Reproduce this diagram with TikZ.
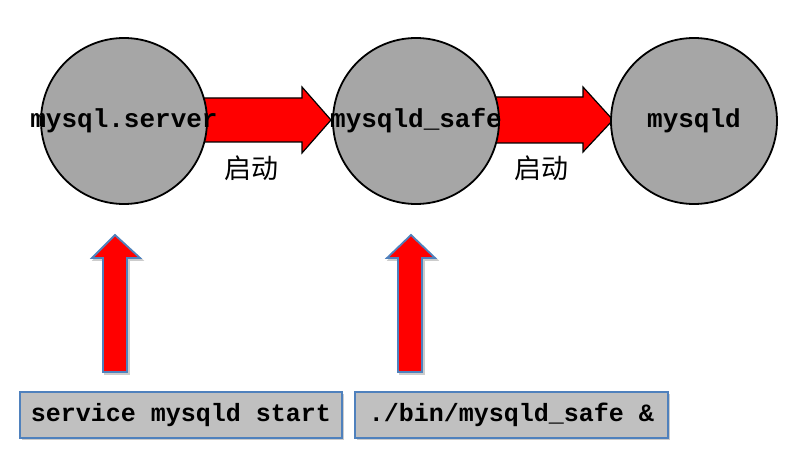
\documentclass[tikz,border=0pt]{standalone}
\usepackage{fontspec}
\setmonofont{Liberation Mono}
\newfontfamily\cjk{Noto Sans CJK SC}
\usepackage{tikz}

\definecolor{circgray}{HTML}{A6A6A6}
\definecolor{boxgray}{HTML}{C0C0C0}
\definecolor{boxblue}{HTML}{4F81BD}
\definecolor{arrowred}{HTML}{FF0000}

\tikzset{
  proc/.style={circle, draw=black, line width=1.8pt, fill=circgray, minimum size=166pt, inner sep=0pt},
  proctext/.style={font=\ttfamily\bfseries\fontsize{26}{30}\selectfont, inner sep=0pt},
  cmdbox/.style={draw=boxblue, line width=1.5pt, fill=boxgray, inner sep=0pt,
    font=\ttfamily\bfseries\fontsize{25}{30}\selectfont},
  startlabel/.style={font=\cjk\fontsize{27}{30}\selectfont, inner sep=0pt},
  fatarrow/.style={draw=black, line width=1.2pt, fill=arrowred},
  uparrow/.style={draw=boxblue, line width=1.8pt, fill=arrowred}
}

\begin{document}
\begin{tikzpicture}[x=1pt,y=-1pt]
	\useasboundingbox (0,0) rectangle (790,465);
	% horizontal arrows (under the circles)
	\draw [fatarrow] (200,98) -- (302,98) -- (302,87) -- (331,120) -- (302,153) -- (302,142) -- (200,142) -- cycle;
	\draw [fatarrow] (490,97) -- (583,97) -- (583,87) -- (613,120) -- (583,152) -- (583,143) -- (490,143) -- cycle;
	% circles
	\node [proc] (srv) at (124,121) {};
	\node [proc] (safe) at (416,121) {};
	\node [proc] (mysqld) at (694,121) {};
	\node [proctext] (srvtext) at (srv) {mysql.server};
	\node [proctext] (safetext) at (safe) {mysqld\_safe};
	\node [proctext] (mysqldtext) at (mysqld) {mysqld};
	% labels
	\node [startlabel] (start1) at (251,168) {启动};
	\node [startlabel] (start2) at (541,168) {启动};
	% vertical arrows
	\draw [uparrow, draw=gray!40, fill=gray!40] (105,374) -- (105,260) -- (94,260) -- (117,237) -- (142,260) -- (129,260) -- (129,374) -- cycle;
	\draw [uparrow] (103,372) -- (103,258) -- (92,258) -- (115,235) -- (140,258) -- (127,258) -- (127,372) -- cycle;
	\draw [uparrow, draw=gray!40, fill=gray!40] (400,374) -- (400,260) -- (389,260) -- (413,237) -- (437,260) -- (424,260) -- (424,374) -- cycle;
	\draw [uparrow] (398,372) -- (398,258) -- (387,258) -- (411,235) -- (435,258) -- (422,258) -- (422,372) -- cycle;
	% command boxes
	\fill [gray!40] (22,394) rectangle (344,440);
	\fill [gray!40] (357,394) rectangle (670,440);
	\node [cmdbox, minimum width=322pt, minimum height=46pt] (cmdsrv) at (181,415) {service mysqld start};
	\node [cmdbox, minimum width=313pt, minimum height=46pt] (cmdsafe) at (511.5,415) {./bin/mysqld\_safe \&};
\end{tikzpicture}
\end{document}
